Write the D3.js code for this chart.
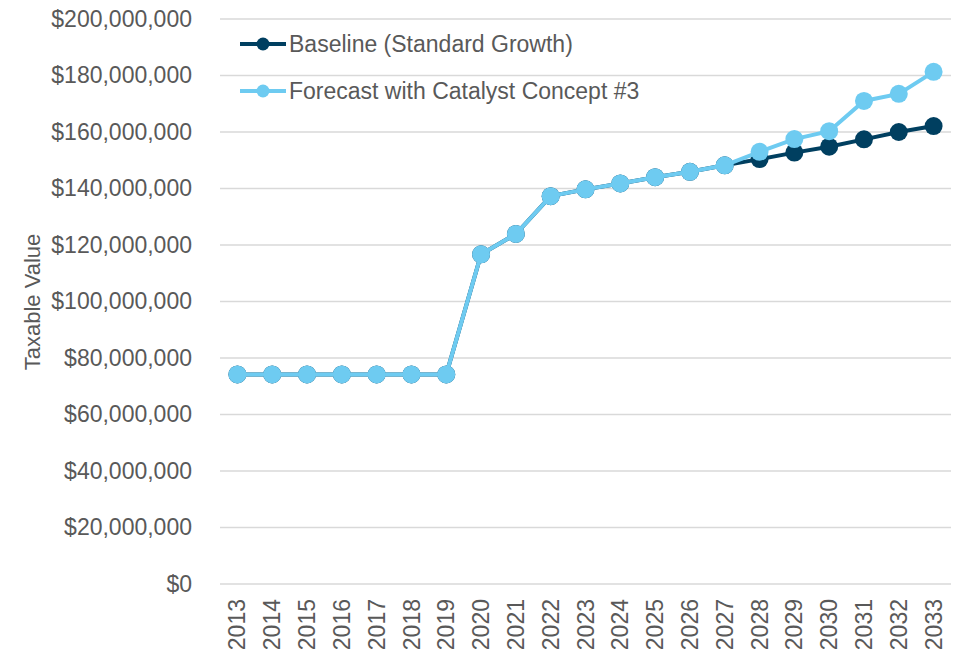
<!DOCTYPE html>
<html><head><meta charset="utf-8">
<script src="https://cdn.jsdelivr.net/npm/d3@7"></script>
<style>body{margin:0;background:#fff}svg{display:block}text{font-family:"Liberation Sans",Arial,sans-serif}</style>
</head><body>
<script>
const years = ["2013","2014","2015","2016","2017","2018","2019","2020","2021","2022","2023","2024","2025","2026","2027","2028","2029","2030","2031","2032","2033"];
const baseline = [74.2,74.2,74.2,74.2,74.2,74.2,74.2,116.7,123.9,137.3,139.7,141.8,144.0,145.9,148.2,150.4,152.7,154.8,157.4,160.0,162.1];
const forecast = [74.2,74.2,74.2,74.2,74.2,74.2,74.2,116.7,123.9,137.3,139.7,141.8,144.0,145.9,148.2,153.0,157.5,160.3,171.0,173.5,181.3];
const yTicks = [0,20,40,60,80,100,120,140,160,180,200];
const seriesNames = ["Baseline (Standard Growth)","Forecast with Catalyst Concept #3"];
const colors = ["#003F60","#6ECBF1"];
const FS = 23;

const W=958,H=652;
const svg=d3.select("body").append("svg").attr("width",W).attr("height",H);
const x=d3.scaleBand().domain(years).range([220,951]);
const y=d3.scaleLinear().domain([0,200]).range([584,19]);
const fmt=v=>"$"+d3.format(",")(v*1e6);

// gridlines
svg.append("g").selectAll("line").data(yTicks).join("line")
 .attr("x1",220).attr("x2",951).attr("y1",d=>y(d)).attr("y2",d=>y(d))
 .attr("stroke","#d9d9d9").attr("stroke-width",1.3);

// y axis labels
const ya=svg.append("g").attr("transform","translate(220,0)")
 .call(d3.axisLeft(y).tickValues(yTicks).tickFormat(fmt).tickSize(0).tickPadding(28));
ya.select(".domain").remove();
ya.selectAll("text").attr("font-size",FS).attr("fill","#595959").attr("font-family","Liberation Sans, Arial, sans-serif");

// x axis labels
const xa=svg.append("g").attr("transform","translate(0,584)")
 .call(d3.axisBottom(x).tickSize(0));
xa.select(".domain").remove();
xa.selectAll("text").attr("font-size",FS).attr("fill","#595959").attr("font-family","Liberation Sans, Arial, sans-serif")
 .attr("transform","rotate(-90)").attr("text-anchor","end").attr("dx","-15").attr("dy","0.35em").attr("y",0).attr("x",0);

// y title
svg.append("text").attr("transform","translate(40,302) rotate(-90)").attr("text-anchor","middle")
 .attr("font-size",FS-1).attr("fill","#595959").text("Taxable Value");

const line=d3.line().x((d,i)=>x(years[i])+x.bandwidth()/2).y(d=>y(d));
[baseline,forecast].forEach((s,k)=>{
  const g=svg.append("g");
  g.append("path").datum(s).attr("d",line).attr("fill","none").attr("stroke",colors[k]).attr("stroke-width",4);
  g.selectAll("circle").data(s).join("circle")
   .attr("cx",(d,i)=>x(years[i])+x.bandwidth()/2).attr("cy",d=>y(d)).attr("r",9).attr("fill",colors[k]);
});

// legend
const lg=svg.append("g");
seriesNames.forEach((n,k)=>{
  const ly=44+k*47;
  lg.append("line").attr("x1",240).attr("x2",286).attr("y1",ly).attr("y2",ly).attr("stroke",colors[k]).attr("stroke-width",4);
  lg.append("circle").attr("cx",263).attr("cy",ly).attr("r",6.5).attr("fill",colors[k]);
  lg.append("text").attr("x",289).attr("y",ly).attr("dy","0.35em").attr("font-size",FS).attr("fill","#595959").text(n);
});
</script>
</body></html>
